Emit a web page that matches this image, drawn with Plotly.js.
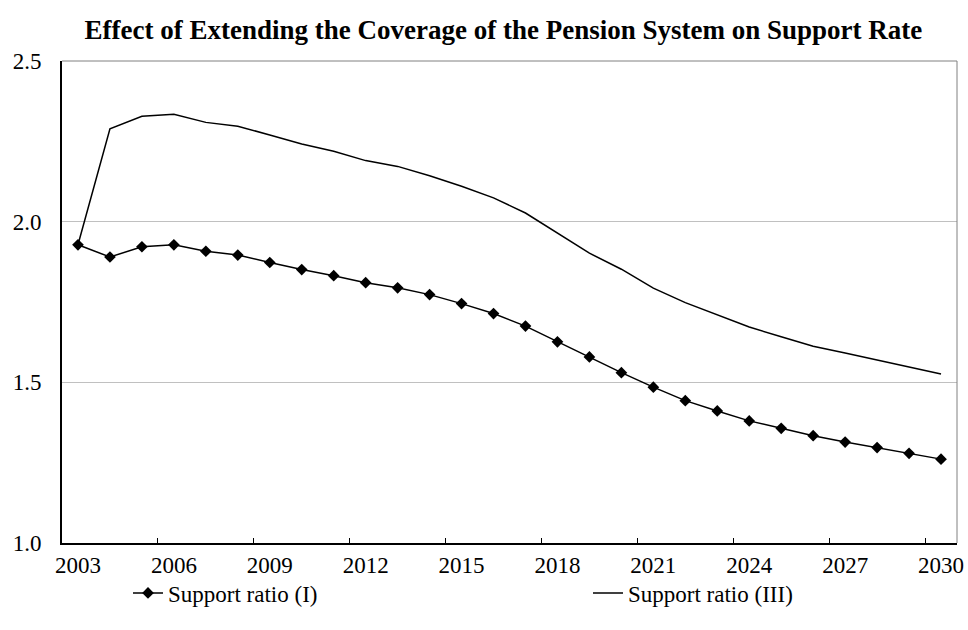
<!DOCTYPE html>
<html>
<head>
<meta charset="utf-8">
<script src="https://cdn.plot.ly/plotly-3.0.1.min.js"></script>
<style>html,body{margin:0;padding:0;background:#fff;}#chart{width:968px;height:630px;}</style>
</head>
<body>
<div id="chart"></div>
<script>
const years = [2003,2004,2005,2006,2007,2008,2009,2010,2011,2012,2013,2014,2015,2016,2017,2018,2019,2020,2021,2022,2023,2024,2025,2026,2027,2028,2029,2030];
const supportRatioI = [1.928,1.890,1.922,1.928,1.908,1.896,1.873,1.851,1.832,1.810,1.794,1.773,1.745,1.714,1.675,1.626,1.579,1.530,1.485,1.443,1.411,1.380,1.357,1.334,1.314,1.297,1.279,1.261];
const supportRatioIII = [1.928,2.289,2.328,2.334,2.309,2.297,2.270,2.242,2.219,2.190,2.172,2.143,2.110,2.074,2.027,1.965,1.902,1.852,1.793,1.748,1.710,1.672,1.642,1.612,1.591,1.570,1.547,1.526];
const xTickLabels = [2003,2006,2009,2012,2015,2018,2021,2024,2027,2030];
const xTickMarks = [2005.5,2008.5,2011.5,2014.5,2017.5,2020.5,2023.5,2026.5,2029.5];
const yTicks = [1.0,1.5,2.0,2.5];
const seriesNames = ['Support ratio (I)','Support ratio (III)'];
const titleText = 'Effect of Extending the Coverage of the Pension System on Support Rate';

const font = 'Liberation Serif, Times New Roman, serif';
const fs = 23;

const traces = [
  {x: years, y: supportRatioI, name: seriesNames[0], type: 'scatter', mode: 'lines+markers',
   line: {color: '#000', width: 1.5}, marker: {symbol: 'diamond', size: 9, color: '#000'}, legend: 'legend'},
  {x: years, y: supportRatioIII, name: seriesNames[1], type: 'scatter', mode: 'lines',
   line: {color: '#000', width: 1.5}, legend: 'legend2'}
];

const layout = {
  width: 968, height: 630,
  margin: {l: 62, r: 11, t: 61, b: 87},
  paper_bgcolor: '#fff', plot_bgcolor: '#fff',
  font: {family: font, size: fs, color: '#000'},
  title: {text: '<b>' + titleText + '</b>', font: {family: font, size: 27, color: '#000'},
          x: 0.52, xref: 'container', y: 1 - 30/630, yref: 'container', xanchor: 'center', yanchor: 'middle'},
  xaxis: {
    range: [2002.5, 2030.5], tickmode: 'array', tickvals: xTickLabels, ticktext: xTickLabels.map(String),
    ticks: '', showgrid: false, zeroline: false, showline: true, linecolor: '#000', linewidth: 2,
    tickfont: {family: font, size: fs, color: '#000'},
    minor: {tickmode: 'array', tickvals: xTickMarks, ticks: 'inside', ticklen: 5, tickwidth: 1, tickcolor: '#000', showgrid: false}
  },
  yaxis: {
    range: [1.0, 2.5], tickmode: 'array', tickvals: yTicks, ticktext: yTicks.map(v => v.toFixed(1)),
    ticks: '', showgrid: true, gridcolor: '#c0c0c0', gridwidth: 1, zeroline: false,
    showline: true, linecolor: '#000', linewidth: 2, ticklabelstandoff: 14,
    tickfont: {family: font, size: fs, color: '#000'}
  },
  shapes: [
    {type: 'line', xref: 'paper', yref: 'paper', x0: 0, x1: 1, y0: 1, y1: 1, line: {color: '#808080', width: 1}},
    {type: 'line', xref: 'paper', yref: 'paper', x0: 1, x1: 1, y0: 0, y1: 1, line: {color: '#808080', width: 1}}
  ],
  showlegend: true,
  legend: {x: 128/968, xref: 'container', xanchor: 'left', y: 1 - 593/630, yref: 'container', yanchor: 'middle',
           orientation: 'h', font: {family: font, size: fs, color: '#000'}, bgcolor: 'rgba(0,0,0,0)', itemwidth: 30},
  legend2: {x: 588/968, xref: 'container', xanchor: 'left', y: 1 - 593/630, yref: 'container', yanchor: 'middle',
           orientation: 'h', font: {family: font, size: fs, color: '#000'}, bgcolor: 'rgba(0,0,0,0)', itemwidth: 30}
};

Plotly.newPlot('chart', traces, layout, {displayModeBar: false, staticPlot: true});
</script>
</body>
</html>
